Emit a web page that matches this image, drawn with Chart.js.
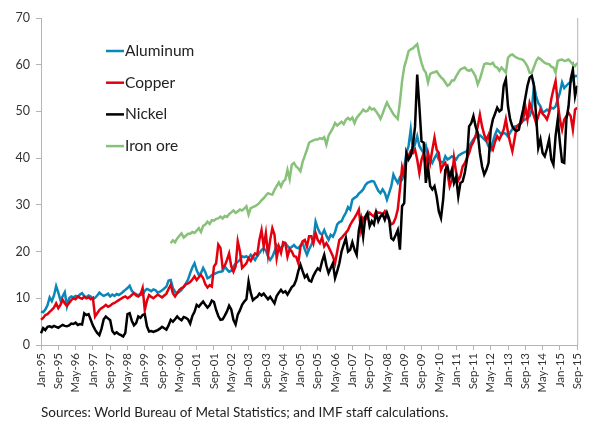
<!DOCTYPE html>
<html>
<head>
<meta charset="utf-8">
<title>Metal prices</title>
<script src="https://cdn.jsdelivr.net/npm/chart.js@4.4.1/dist/chart.umd.min.js"></script>
<style>
  html, body { margin: 0; padding: 0; background: #fff; }
</style>
</head>
<body>
<canvas id="metalsChart" width="594" height="424"></canvas>
<script>
// monthly series, Jan-95 .. Sep-15 (one line per year)
const aluminum = [
  7.2, 7.0, 7.6, 8.5, 10.2, 9.4, 10.6, 12.6, 11.2, 9.6, 10.4, 11.3,
  8.3, 10.0, 10.4, 10.2, 10.5, 10.3, 10.8, 11.1, 10.5, 10.2, 10.6, 10.4,
  9.8, 10.1, 10.6, 11.2, 10.8, 10.5, 10.7, 11.0, 10.4, 10.8, 10.5, 10.9,
  10.7, 11.0, 11.4, 11.8, 12.2, 12.7, 11.6, 11.1, 10.9, 10.6, 11.0, 10.7,
  11.6, 12.0, 11.8, 11.5, 11.9, 11.7, 11.2, 11.4, 11.7, 12.1, 12.5, 13.8,
  13.9, 12.2, 11.4, 11.1, 11.4, 11.8, 12.5, 13.2, 14.0, 15.4, 16.6, 17.5,
  16.0, 15.0, 15.4, 16.5, 15.6, 14.3, 14.5, 15.0, 15.2, 15.4, 15.6, 15.7,
  15.8, 16.8, 16.2, 15.7, 15.9, 16.8, 17.4, 17.8, 18.2, 19.0, 18.8, 19.0,
  18.6, 19.3, 18.8, 18.2, 19.0, 19.7, 20.3, 20.7, 20.2, 19.0, 18.2, 18.9,
  20.0, 21.4, 21.0, 20.7, 21.3, 21.8, 21.2, 20.7, 21.0, 21.4, 20.9, 20.7,
  21.3, 21.8, 20.5, 19.3, 20.5, 21.4, 22.5, 26.4, 25.0, 24.0, 23.6, 24.6,
  23.4, 22.5, 23.6, 23.2, 24.2, 25.8, 26.3, 26.5, 27.5, 28.3, 29.5, 29.0,
  31.1, 31.5, 31.8, 32.4, 32.8, 33.3, 34.2, 34.7, 34.9, 35.1, 35.0, 34.0,
  33.0, 32.5, 33.3, 32.6, 31.1, 32.5, 34.0, 36.5, 35.5, 34.7, 35.9, 35.5,
  38.0, 41.1, 42.6, 46.1, 41.8, 43.0, 44.7, 42.6, 41.8, 41.1, 42.6, 40.4,
  39.8, 39.0, 40.0, 40.8, 39.7, 39.2, 39.0, 40.4, 39.7, 40.0, 40.4, 40.1,
  39.7, 40.5, 40.8, 41.1, 41.3, 41.5, 42.4, 43.3, 44.0, 44.7, 44.4, 44.9,
  44.5, 44.0, 43.6, 42.5, 41.8, 43.5, 45.0, 46.1, 45.6, 45.0, 45.4, 45.2,
  44.6, 45.5, 46.2, 46.8, 46.8, 47.0, 47.5, 48.0, 48.3, 48.6, 49.0, 50.4,
  55.5, 53.3, 51.8, 51.1, 49.8, 50.0, 50.4, 50.0, 50.8, 50.6, 51.1, 52.6,
  54.0, 56.2, 55.0, 55.5, 56.0, 56.3, 57.0, 57.6, 57.6
];

const copper = [
  5.4, 5.8, 6.4, 6.6, 7.1, 7.5, 8.0, 8.9, 7.9, 8.6, 9.7, 8.9,
  8.4, 9.0, 9.6, 10.0, 9.8, 10.4, 10.1, 9.9, 10.3, 10.0, 10.2, 9.8,
  10.1, 6.1, 6.8, 7.5, 7.9, 8.2, 8.6, 8.2, 8.4, 8.8, 9.0, 9.3,
  9.6, 9.9, 10.2, 10.4, 10.0, 10.3, 10.7, 11.1, 10.6, 10.4, 10.8, 12.2,
  7.5, 9.5, 10.7, 10.3, 10.0, 10.4, 10.8, 10.5, 10.2, 10.6, 11.0, 12.0,
  12.9, 11.1, 10.4, 11.1, 11.8, 12.2, 12.4, 13.0, 13.2, 13.5, 14.0, 14.7,
  13.9, 14.5, 15.0, 14.3, 13.0, 12.3, 12.8, 12.5, 16.8, 17.5, 21.5, 20.8,
  16.5, 17.0, 18.2, 19.6, 16.8, 15.7, 16.8, 22.2, 20.1, 16.5, 17.0, 17.5,
  18.6, 18.0, 18.9, 19.6, 19.3, 22.5, 24.6, 21.1, 23.9, 19.3, 22.5, 25.0,
  23.6, 18.6, 21.1, 19.7, 22.0, 21.8, 18.9, 20.5, 20.0, 19.0, 18.9, 17.5,
  21.0, 22.2, 22.5, 21.1, 23.3, 23.3, 21.8, 24.0, 22.5, 21.8, 23.0, 21.1,
  21.8, 21.0, 20.0, 19.0, 17.5, 20.0, 22.5, 22.9, 23.5, 24.0, 24.6, 25.7,
  26.5, 27.2, 28.0, 29.0, 24.7, 27.2, 26.8, 27.5, 28.3, 27.8, 27.5, 28.6,
  28.3, 28.3, 27.9, 28.6, 27.5, 26.8, 25.8, 26.1, 27.2, 29.0, 33.3, 38.0,
  36.1, 39.7, 40.5, 41.5, 41.1, 41.8, 39.7, 36.8, 39.7, 41.1, 38.2, 41.1,
  39.0, 41.8, 44.4, 41.8, 41.1, 37.5, 38.5, 39.0, 36.8, 34.0, 35.4, 40.1,
  37.0, 35.2, 36.1, 38.2, 38.9, 40.0, 41.1, 42.6, 43.5, 44.7, 46.8, 49.3,
  46.8, 45.0, 43.9, 45.0, 42.6, 41.8, 43.5, 44.7, 44.0, 45.0, 46.1, 48.3,
  45.5, 43.3, 41.5, 44.0, 46.8, 47.2, 47.5, 48.3, 51.1, 48.3, 51.8, 50.4,
  49.0, 47.5, 49.0, 50.4, 49.5, 49.0, 48.3, 49.7, 52.6, 54.7, 56.5, 51.8,
  48.3, 46.1, 48.3, 49.0, 49.7, 49.0, 46.1, 50.4, 50.8
];

const nickel = [
  2.5, 3.6, 3.2, 3.9, 4.0, 3.8, 4.1, 3.9, 3.7, 4.0, 4.3, 4.1,
  4.0, 4.2, 4.6, 4.5, 4.8, 4.3, 4.5, 4.4, 6.8, 6.4, 6.6, 5.4,
  4.2, 3.3, 2.6, 2.1, 3.5, 5.5, 6.1, 5.7, 5.3, 3.0, 2.4, 2.7,
  2.3, 2.1, 1.8, 2.6, 6.6, 6.8, 5.2, 4.2, 4.7, 6.1, 5.8, 6.4,
  6.6, 4.0, 2.9, 3.0, 2.8, 3.0, 3.2, 3.5, 3.9, 3.6, 3.3, 4.2,
  5.4, 5.0, 5.5, 6.1, 5.6, 5.3, 6.0, 5.8, 5.5, 4.6, 6.2, 7.1,
  8.6, 8.2, 8.8, 9.3, 8.6, 8.0, 8.5, 9.5, 9.2, 7.5, 6.2, 5.4,
  5.5, 6.3, 7.2, 8.4, 7.6, 5.4, 4.4, 6.5, 7.4, 8.6, 9.3, 9.8,
  13.6, 11.2, 9.6, 10.0, 10.3, 11.0, 10.6, 11.0, 10.4, 9.8, 10.3, 9.6,
  8.9, 10.5, 11.2, 11.8, 11.2, 11.5, 10.8, 11.6, 12.4, 12.8, 13.9, 15.8,
  17.2, 15.8, 14.5, 15.0, 13.8, 13.6, 14.8, 15.7, 16.4, 16.0, 17.9, 19.3,
  17.0, 15.4, 16.5, 17.5, 14.3, 15.8, 17.5, 20.0, 21.5, 22.9, 20.0, 20.4,
  22.0, 20.4, 19.3, 24.5, 26.8, 23.2, 27.5, 28.3, 25.4, 26.5, 25.8, 28.3,
  26.5, 27.5, 28.0, 26.8, 28.3, 27.0, 22.9, 22.5, 23.5, 24.6, 20.4, 29.7,
  30.4, 41.1, 39.7, 40.5, 42.6, 46.8, 57.9, 51.1, 43.6, 43.3, 34.7, 38.2,
  34.0, 33.3, 34.0, 31.8, 28.6, 27.2, 31.1, 37.5, 38.2, 36.0, 37.5, 34.7,
  36.0, 31.8, 34.7, 35.0, 36.8, 39.7, 46.8, 47.5, 49.0, 46.8, 45.4, 41.1,
  38.2, 36.5, 37.5, 39.0, 46.1, 48.3, 49.5, 50.8, 50.0, 50.4, 55.5, 56.9,
  51.1, 48.3, 46.8, 46.1, 45.8, 46.1, 48.3, 50.4, 52.9, 55.5, 57.2, 57.6,
  55.5, 49.0, 42.2, 44.0, 41.1, 40.4, 42.0, 44.0, 39.7, 38.6, 44.7, 48.3,
  43.3, 39.2, 39.0, 48.3, 51.1, 56.9, 59.0, 53.3, 55.5
];

// iron ore only from Jan-00
const ironOreFrom = 'Jan-00';
const ironOre = [
  21.8, 22.4, 22.0, 22.8, 23.4, 23.9, 23.0, 23.4, 23.8, 23.8, 24.2, 24.0,
  24.5, 25.0, 24.2, 25.5, 25.8, 26.4, 25.9, 26.7, 26.6, 27.0, 27.1, 27.5,
  27.1, 27.6, 27.4, 28.0, 28.4, 28.8, 28.3, 28.6, 29.0, 28.8, 29.2, 29.7,
  27.9, 29.3, 29.5, 29.7, 30.0, 30.4, 31.0, 31.4, 32.0, 32.5, 32.3, 32.2,
  33.2, 34.0, 34.8, 33.9, 35.0, 35.4, 37.5, 35.5, 38.6, 39.0, 38.2, 37.8,
  37.2, 39.2, 40.5, 41.8, 43.3, 43.6, 43.8, 44.0, 44.0, 44.3, 44.1, 44.5,
  42.9, 44.8, 45.6, 46.4, 47.5, 47.0, 47.4, 47.8, 47.3, 48.2, 48.6, 48.2,
  48.7, 47.5, 48.6, 49.2, 49.7, 50.4, 50.0, 50.1, 50.9, 50.4, 50.6, 50.0,
  49.3, 48.4, 49.5, 50.8, 51.9, 51.0, 50.2, 49.4, 48.9, 48.4, 52.0, 56.5,
  59.5, 61.1, 62.9, 63.3, 63.5, 64.0, 64.4, 62.2, 60.4, 59.0, 58.3, 56.2,
  58.0, 58.3, 58.4, 58.6, 57.9, 57.3, 56.9, 56.2, 55.5, 55.8, 56.6, 56.6,
  57.5, 58.3, 59.0, 59.2, 59.4, 58.9, 58.7, 59.0, 58.3, 57.5, 55.8, 56.9,
  58.5, 60.1, 60.3, 60.2, 60.1, 60.4, 59.6, 59.4, 58.7, 59.4, 58.9, 58.3,
  61.5, 62.0, 62.2, 61.8, 61.5, 61.3, 61.2, 61.0, 60.4, 59.6, 58.3, 58.3,
  59.5, 60.8, 61.5, 61.2, 60.8, 60.4, 60.2, 60.1, 59.6, 59.4, 58.3, 60.8,
  61.0, 61.1, 60.8, 60.9, 61.1, 60.6, 60.1, 59.7, 60.4
];

const monthNames = ['Jan', 'Feb', 'Mar', 'Apr', 'May', 'Jun', 'Jul', 'Aug', 'Sep', 'Oct', 'Nov', 'Dec'];
const labels = [];
for (let yr = 1995; yr <= 2015; yr++) {
  for (let mo = 0; mo < 12; mo++) {
    if (yr === 2015 && mo > 8) break;
    labels.push(monthNames[mo] + '-' + String(yr).slice(2));
  }
}
const tickEvery = 8; // Jan-95, Sep-95, May-96, ...
const sourceNote = 'Sources: World Bureau of Metal Statistics; and IMF staff calculations.';

const fontFamily = 'Lato, "Open Sans", sans-serif';
const axisColor = '#b4b4b4';
const textColor = '#333';

// pad iron ore with gaps before its first month
const ironOreData = Array(labels.indexOf(ironOreFrom)).fill(null).concat(ironOre);

// legend drawn inside the plot, plus the source line under the axis
const innerLegend = {
  id: 'innerLegend',
  afterDraw(chart) {
    const ctx = chart.ctx;
    const area = chart.chartArea;
    ctx.save();
    // right-hand frame line
    ctx.strokeStyle = axisColor;
    ctx.lineWidth = 1;
    ctx.beginPath();
    ctx.moveTo(area.right + 0.5, area.top);
    ctx.lineTo(area.right + 0.5, area.bottom);
    ctx.stroke();

    ctx.font = '15.5px ' + fontFamily;
    ctx.textBaseline = 'middle';
    chart.data.datasets.forEach((ds, i) => {
      const y = 51 + i * 31.7;
      ctx.strokeStyle = ds.borderColor;
      ctx.lineWidth = 2.5;
      ctx.beginPath();
      ctx.moveTo(106, y);
      ctx.lineTo(124, y);
      ctx.stroke();
      ctx.fillStyle = '#222';
      ctx.fillText(ds.label, 125, y);
    });

    ctx.font = '13.5px ' + fontFamily;
    ctx.fillStyle = '#222';
    ctx.fillText(sourceNote, 41, 413);
    ctx.restore();
  }
};

new Chart(document.getElementById('metalsChart'), {
  type: 'line',
  data: {
    labels: labels,
    datasets: [
      { label: 'Aluminum', data: aluminum, borderColor: '#0a87b8', order: 4 },
      { label: 'Copper', data: copper, borderColor: '#e3000f', order: 3 },
      { label: 'Nickel', data: nickel, borderColor: '#000000', order: 2 },
      { label: 'Iron ore', data: ironOreData, borderColor: '#88c17a', order: 1 }
    ]
  },
  options: {
    responsive: false,
    animation: false,
    devicePixelRatio: 1,
    layout: { padding: { top: 18, right: 7, bottom: 30, left: 0 } },
    elements: {
      point: { radius: 0 },
      line: { borderWidth: 2.5, tension: 0, fill: false }
    },
    plugins: {
      legend: { display: false },
      tooltip: { enabled: false }
    },
    scales: {
      x: {
        grid: { drawOnChartArea: false, drawTicks: true, tickLength: 5, color: axisColor },
        border: { color: axisColor },
        ticks: {
          autoSkip: false,
          minRotation: 90,
          maxRotation: 90,
          padding: 3,
          color: textColor,
          font: { family: fontFamily, size: 11.5 },
          callback: (val, i) => (i % tickEvery === 0 ? labels[i] : null)
        },
        afterFit: scale => { scale.height = 49; }
      },
      y: {
        min: 0,
        max: 70,
        grid: { drawOnChartArea: false, drawTicks: true, tickLength: 5, color: axisColor },
        border: { color: axisColor },
        ticks: {
          stepSize: 10,
          padding: 6,
          color: textColor,
          font: { family: fontFamily, size: 12.5 }
        },
        afterFit: scale => { scale.width = 41; }
      }
    }
  },
  plugins: [innerLegend]
});
</script>
</body>
</html>
